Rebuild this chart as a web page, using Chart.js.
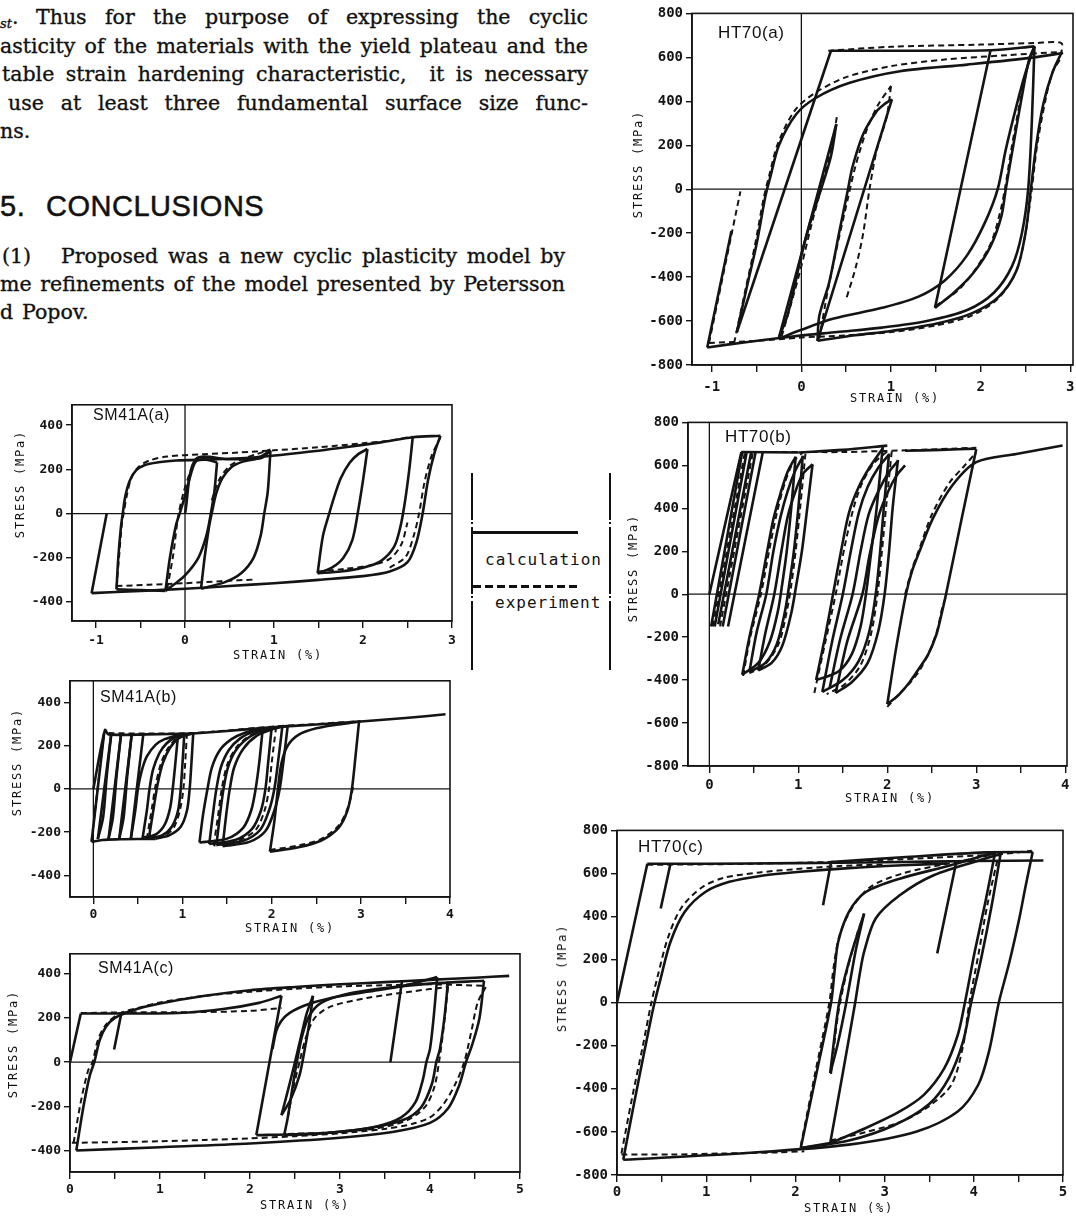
<!DOCTYPE html>
<html lang="en">
<head>
<meta charset="utf-8">
<title>Cyclic stress–strain curves, SM41A and HT70</title>
<script src="https://cdn.jsdelivr.net/npm/chart.js@4.4.1/dist/chart.umd.min.js"></script>
<style>
  html, body { margin: 0; padding: 0; background: #fff; }
  body { position: relative; width: 1076px; height: 1217px; overflow: hidden; color: #111; }
  .ln { position: absolute; font-family: 'DejaVu Serif', serif; font-size: 20.5px; line-height: 28px;
        -webkit-text-stroke: 0.35px #111;
        white-space: nowrap; text-align: justify; text-align-last: justify; }
  .hd { position: absolute; font-family: 'Liberation Sans', Arial, sans-serif; font-size: 29px;
        line-height: 32px; letter-spacing: 0.5px; white-space: nowrap; -webkit-text-stroke: 0.5px #111; }
  canvas { position: absolute; }
  .pl { position: absolute; font-family: 'Liberation Sans', sans-serif; font-size: 16px; line-height: 18px;
        transform: translateY(-50%); letter-spacing: 0.6px; white-space: nowrap; }
  .xt, .yt { position: absolute; font-family: 'DejaVu Sans Mono', monospace; font-size: 12px;
             letter-spacing: 1.8px; white-space: nowrap; line-height: 14px; }
  .xt { transform: translate(-50%, -50%); }
  .yt { transform: translate(-50%, -50%) rotate(-90deg); }
  .lv { position: absolute; width: 1.6px; background: #111; }
  .lgt { position: absolute; font-family: 'DejaVu Sans Mono', monospace; font-size: 16px;
         letter-spacing: 1px; transform: translateY(-50%); white-space: nowrap; }
</style>
</head>
<body>

<!-- running text of the page -->
<div class="ln" style="left:0;top:3px"><span style="font-style:italic;font-size:13px;position:relative;top:4px">st</span>.</div>
<div class="ln" style="left:36px;top:3px;width:552px">Thus for the purpose of expressing the cyclic</div>
<div class="ln" style="left:0;top:32px;width:588px">asticity of the materials with the yield plateau and the</div>
<div class="ln" style="left:2px;top:60px;width:586px">table strain hardening characteristic,&nbsp; it is necessary</div>
<div class="ln" style="left:8px;top:89px;width:580px">use at least three fundamental surface size func-</div>
<div class="ln" style="left:0;top:117px">ns.</div>
<div class="hd" style="left:0;top:190px">5.</div>
<div class="hd" style="left:46px;top:190px">CONCLUSIONS</div>
<div class="ln" style="left:2px;top:242px">(1)</div>
<div class="ln" style="left:61px;top:242px;width:504px">Proposed was a new cyclic plasticity model by</div>
<div class="ln" style="left:0;top:270px;width:565px">me refinements of the model presented by Petersson</div>
<div class="ln" style="left:0;top:298px">d</div>
<div class="ln" style="left:22px;top:298px">Popov.</div>

<!-- legend between the panels -->
<div class="lv" style="left:471px;top:473px;height:47px"></div>
<div class="lv" style="left:471px;top:522px;height:2px"></div>
<div class="lv" style="left:471px;top:527px;height:67px"></div>
<div class="lv" style="left:471px;top:596px;height:2px"></div>
<div class="lv" style="left:471px;top:601px;height:69px"></div>
<div class="lv" style="left:609px;top:473px;height:47px"></div>
<div class="lv" style="left:609px;top:522px;height:2px"></div>
<div class="lv" style="left:609px;top:527px;height:67px"></div>
<div class="lv" style="left:609px;top:596px;height:2px"></div>
<div class="lv" style="left:609px;top:601px;height:69px"></div>
<div style="position:absolute;left:473px;top:531px;width:105px;height:3px;background:#111"></div>
<div class="lgt" style="left:485px;top:559px">calculation</div>
<div style="position:absolute;left:473px;top:585px;width:105px;height:3px;background:repeating-linear-gradient(to right,#111 0 8px,transparent 8px 12px)"></div>
<div class="lgt" style="left:495px;top:602px">experiment</div>

<div id="charts"></div>

<!-- panel captions and axis titles -->
<div class="pl" style="left:93px;top:415px">SM41A(a)</div>
<div class="pl" style="left:100px;top:697px">SM41A(b)</div>
<div class="pl" style="left:98px;top:968px">SM41A(c)</div>
<div class="pl" style="left:718px;top:33px;font-size:17px">HT70(a)</div>
<div class="pl" style="left:725px;top:437px;font-size:17px">HT70(b)</div>
<div class="pl" style="left:638px;top:847px;font-size:17px">HT70(c)</div>

<div class="yt" style="left:20px;top:484px">STRESS (MPa)</div>
<div class="xt" style="left:278px;top:655px">STRAIN (%)</div>
<div class="yt" style="left:17px;top:762px">STRESS (MPa)</div>
<div class="xt" style="left:290px;top:928px">STRAIN (%)</div>
<div class="yt" style="left:13px;top:1044px">STRESS (MPa)</div>
<div class="xt" style="left:305px;top:1205px">STRAIN (%)</div>
<div class="yt" style="left:638px;top:164px">STRESS (MPa)</div>
<div class="xt" style="left:895px;top:398px">STRAIN (%)</div>
<div class="yt" style="left:633px;top:568px">STRESS (MPa)</div>
<div class="xt" style="left:890px;top:798px">STRAIN (%)</div>
<div class="yt" style="left:562px;top:978px">STRESS (MPa)</div>
<div class="xt" style="left:849px;top:1208px">STRAIN (%)</div>

<script>
// ---- tick values (strain in %, stress in MPa) ----
const strainTicksA = [-1, -0.5, 0, 0.5, 1, 1.5, 2, 2.5, 3];
const strainTicks4 = [0, 0.5, 1, 1.5, 2, 2.5, 3, 3.5, 4];
const strainTicks5 = [0, 0.5, 1, 1.5, 2, 2.5, 3, 3.5, 4, 4.5, 5];
const stressTicksSM = [-400, -200, 0, 200, 400];
const stressTicksHT = [-800, -600, -400, -200, 0, 200, 400, 600, 800];

// ---- SM41A(a): each inner array is one branch of [strain, stress] points ----
const sm41aCalc = [
  [[-1.05,-360],[-0.88,0]],
  [[-1.05,-360],[-0.5,-350],[0,-340],[0.5,-328],[1.0,-315],[1.5,-300],[2.0,-283],[2.3,-262],[2.5,-220],[2.6,-130],[2.67,0],[2.73,150],[2.8,270],[2.87,352]],
  [[-0.77,-343],[-0.75,-200],[-0.72,-60],[-0.7,0],[-0.67,80],[-0.62,150],[-0.55,195],[-0.45,220],[-0.3,232],[-0.1,240],[0.3,245],[0.8,255],[1.3,275],[1.8,300],[2.2,322],[2.56,345],[2.87,352]],
  [[2.56,349],[2.52,200],[2.47,50],[2.42,-60],[2.35,-150],[2.2,-215],[2.0,-245],[1.75,-262],[1.49,-270]],
  [[1.49,-270],[1.55,-100],[1.62,0],[1.68,80],[1.75,160],[1.85,230],[1.95,270],[2.05,292]],
  [[2.05,292],[2.0,150],[1.94,0],[1.88,-120],[1.78,-200],[1.65,-245],[1.49,-270]],
  [[0,0],[0.12,245],[0.5,246],[0.85,250],[0.96,285]],
  [[0.96,285],[0.93,100],[0.89,0],[0.85,-100],[0.77,-200],[0.63,-270],[0.45,-310],[0.18,-340]],
  [[0.18,-340],[0.22,-200],[0.27,-60],[0.3,0],[0.35,90],[0.42,160],[0.52,210],[0.65,235],[0.8,248],[0.96,285]],
  [[0.36,232],[0.33,100],[0.29,0],[0.24,-100],[0.15,-200],[0.0,-280],[-0.12,-320],[-0.22,-350]],
  [[-0.22,-350],[-0.17,-200],[-0.1,-50],[-0.06,0],[0.0,80],[0.06,170],[0.12,235],[0.22,245],[0.36,232]],
  [[-0.77,-343],[-0.5,-346],[-0.22,-350]]
];
const sm41aExp = [
  [[-0.77,-335],[-0.74,-190],[-0.71,-50],[-0.69,0],[-0.65,90],[-0.6,165],[-0.52,212],[-0.4,240],[-0.2,258],[0.2,268],[0.6,276],[1.0,286],[1.5,300],[2.0,318],[2.3,330],[2.56,348]],
  [[-0.77,-328],[-0.4,-322],[0.0,-315],[0.4,-306],[0.8,-298]],
  [[1.49,-262],[1.8,-250],[2.1,-233],[2.3,-205],[2.43,-140],[2.5,-40]],
  [[0.3,60],[0.38,150],[0.5,215],[0.65,248],[0.8,268],[0.96,290]],
  [[-0.2,-340],[-0.13,-180],[-0.08,-20],[-0.02,90],[0.06,190],[0.12,240]],
  [[2.3,-245],[2.48,-195],[2.57,-100],[2.63,0],[2.69,140],[2.77,260],[2.87,345]]
];

// ---- SM41A(b) ----
const sm41bCalc = [
  [[0,0],[0.13,272],[0.17,252],[0.6,252],[1.12,256]],
  [[1.12,256],[1.5,268],[2.0,285],[2.5,298],[3.0,312],[3.5,328],[3.95,345]],
  [[-0.02,-245],[0.12,255]],
  [[0.05,-232],[0.2,252]],
  [[0.17,-232],[0.31,252]],
  [[0.29,-232],[0.43,252]],
  [[0.42,-232],[0.56,252]],
  [[0.2,252],[0.15,60],[0.11,-130],[0.05,-232]],
  [[0.31,252],[0.26,60],[0.22,-130],[0.17,-232]],
  [[0.43,252],[0.38,60],[0.34,-130],[0.29,-232]],
  [[-0.02,-245],[0.1,-236],[0.3,-233],[0.5,-232],[0.7,-232]],
  [[0.42,-232],[0.47,-100],[0.5,0],[0.54,80],[0.6,150],[0.7,205],[0.8,230],[0.95,250]],
  [[0.55,-232],[0.6,-100],[0.63,0],[0.67,90],[0.74,165],[0.82,210],[0.92,240],[1.02,255]],
  [[0.62,-235],[0.68,-80],[0.72,20],[0.78,120],[0.86,190],[0.96,235],[1.1,255]],
  [[0.95,252],[0.92,120],[0.89,0],[0.86,-90],[0.8,-165],[0.7,-210],[0.55,-225]],
  [[1.02,255],[1.0,120],[0.98,0],[0.95,-100],[0.88,-175],[0.77,-215],[0.62,-228]],
  [[1.12,256],[1.1,120],[1.08,0],[1.05,-100],[0.98,-175],[0.85,-215],[0.7,-230]],
  [[1.19,-248],[1.23,-120],[1.28,0],[1.33,100],[1.42,180],[1.55,230],[1.7,260],[1.9,280]],
  [[1.3,-255],[1.34,-120],[1.38,0],[1.43,100],[1.52,180],[1.65,235],[1.8,265],[2.0,285]],
  [[1.38,-260],[1.42,-120],[1.46,0],[1.51,100],[1.6,180],[1.75,240],[1.92,272],[2.12,290]],
  [[1.45,-265],[1.49,-120],[1.53,0],[1.58,100],[1.68,185],[1.83,245],[2.0,275],[2.18,292]],
  [[1.9,280],[1.86,120],[1.82,0],[1.77,-100],[1.68,-180],[1.5,-230],[1.19,-248]],
  [[2.0,285],[1.96,120],[1.93,0],[1.88,-100],[1.78,-185],[1.6,-235],[1.3,-255]],
  [[2.12,290],[2.07,120],[2.03,0],[1.97,-100],[1.87,-190],[1.68,-240],[1.38,-260]],
  [[2.18,292],[2.13,120],[2.09,0],[2.03,-100],[1.93,-195],[1.75,-245],[1.45,-265]],
  [[1.98,-290],[2.03,-150],[2.07,0],[2.11,120],[2.18,200],[2.3,250],[2.5,280],[2.75,298],[2.98,312]],
  [[2.98,312],[2.94,150],[2.9,0],[2.85,-100],[2.75,-180],[2.55,-240],[2.3,-270],[1.98,-290]]
];
const sm41bExp = [
  [[0.17,258],[0.6,256],[1.1,258],[1.5,270],[2.0,288],[2.5,300],[3.0,314]],
  [[-0.02,-240],[0.12,262]],
  [[0.6,-232],[0.66,-80],[0.7,20],[0.76,120],[0.84,190],[0.95,240],[1.08,258]],
  [[1.05,258],[1.03,120],[1.01,0],[0.97,-100],[0.9,-180],[0.78,-220],[0.6,-232]],
  [[1.35,-262],[1.4,-120],[1.44,0],[1.5,110],[1.6,190],[1.75,245],[1.95,278]],
  [[2.05,288],[2.0,120],[1.97,0],[1.92,-100],[1.82,-190],[1.62,-240],[1.35,-262]],
  [[1.98,-282],[2.3,-262],[2.55,-232],[2.75,-170],[2.86,-80],[2.92,20]]
];

// ---- SM41A(c) ----
const sm41cCalc = [
  [[0,0],[0.12,220]],
  [[0.12,220],[0.6,220],[1.2,222],[1.7,240],[2.1,268],[2.35,300]],
  [[0.57,220],[0.49,57]],
  [[2.35,300],[2.07,-330]],
  [[0.07,-400],[0.15,-200],[0.22,-60],[0.27,0],[0.33,100],[0.4,160],[0.5,200],[0.7,235],[1.0,265],[1.5,300],[2.0,325],[2.5,340],[3.0,352],[3.5,362],[4.0,372],[4.5,382],[4.88,390]],
  [[4.6,368],[4.55,200],[4.47,80],[4.4,0],[4.32,-110],[4.2,-210],[4.0,-275],[3.6,-315],[3.0,-342],[2.0,-368],[1.0,-385],[0.07,-400]],
  [[2.38,-330],[2.42,-250],[2.47,-120],[2.52,0],[2.58,120],[2.66,210],[2.8,270],[3.1,310],[3.5,335],[4.0,355],[4.6,368]],
  [[4.08,385],[4.04,200],[4.0,60],[3.96,0],[3.92,-80],[3.84,-180],[3.68,-250],[3.4,-292],[3.0,-315],[2.7,-325],[2.38,-330]],
  [[4.2,365],[4.16,200],[4.11,60],[4.07,0],[4.02,-100],[3.9,-205],[3.7,-262],[3.3,-300],[2.9,-318],[2.5,-326],[2.07,-330]],
  [[2.25,60],[2.3,150],[2.4,210],[2.6,255],[2.9,290],[3.3,318],[3.7,345],[4.08,385]],
  [[2.35,-240],[2.42,-130],[2.5,0],[2.57,120],[2.63,220],[2.7,300]],
  [[2.7,300],[2.66,180],[2.6,40],[2.55,-60],[2.45,-170],[2.35,-240]],
  [[3.69,370],[3.56,0]]
];
const sm41cExp = [
  [[0.02,-365],[0.5,-362],[1.0,-358],[1.5,-352],[2.0,-345],[2.5,-335],[3.0,-322],[3.5,-302],[3.8,-280],[4.0,-250],[4.15,-190],[4.28,-100],[4.38,0],[4.46,140],[4.53,270],[4.62,340]],
  [[0.04,-365],[0.12,-180],[0.2,-40],[0.25,0],[0.31,100],[0.4,170],[0.55,220],[0.8,250],[1.0,270],[1.5,300],[2.0,318],[2.5,332],[3.0,342],[3.5,348],[4.0,352],[4.62,345]],
  [[0.12,222],[0.6,225],[1.4,226],[2.0,232],[2.35,245]],
  [[4.2,340],[4.15,150],[4.1,0],[4.05,-110],[3.95,-200],[3.75,-262],[3.4,-300],[2.9,-318],[2.4,-325]],
  [[2.42,-250],[2.48,-120],[2.55,0],[2.62,110],[2.72,200],[2.9,252],[3.3,290],[3.8,320],[4.2,340]]
];

// ---- HT70(a) ----
const ht70aCalc = [
  [[-1.05,-720],[-0.78,-190]],
  [[-0.72,-651],[0.33,630]],
  [[0.33,630],[1.2,630],[2.11,632],[2.6,650]],
  [[2.11,632],[1.49,-540]],
  [[1.49,-540],[1.7,-471],[1.92,-380],[2.11,-260],[2.23,-125],[2.28,0],[2.36,190],[2.45,400],[2.54,590],[2.6,650]],
  [[0.18,-690],[0.6,-665],[1.0,-645],[1.5,-612],[1.9,-565],[2.2,-490],[2.4,-370],[2.5,-200],[2.56,0],[2.62,200],[2.7,390],[2.8,530],[2.9,620]],
  [[-0.72,-651],[-0.6,-430],[-0.5,-250],[-0.4,-30],[-0.35,50],[-0.25,200],[-0.06,340],[0.16,415],[0.54,484],[1.1,537],[1.85,567],[2.6,600],[2.92,620]],
  [[2.6,650],[2.57,300],[2.53,0],[2.46,-200],[2.35,-350],[2.15,-470],[1.85,-550],[1.4,-600],[0.9,-630],[0.4,-650],[-0.1,-670],[-0.6,-695],[-1.05,-720]],
  [[-0.25,-680],[0.0,-640],[0.35,-590],[0.9,-540],[1.3,-490],[1.6,-415],[1.85,-300],[2.05,-150],[2.19,0],[2.28,180],[2.4,380],[2.5,530],[2.6,650]],
  [[-0.25,-675],[0.39,296]],
  [[0.39,296],[0.33,150],[0.22,0],[0.1,-150],[0.0,-300],[-0.08,-450],[-0.16,-580],[-0.25,-675]],
  [[0.18,-690],[1.01,409]],
  [[1.01,409],[0.92,385],[0.84,355],[0.69,251],[0.57,101],[0.52,0],[0.42,-200],[0.31,-425],[0.2,-576],[0.18,-690]]
];
const ht70aExp = [
  [[-1.03,-700],[-0.68,-10]],
  [[-0.75,-700],[-0.62,-450],[-0.52,-260],[-0.42,-40],[-0.36,60],[-0.26,210],[-0.07,360],[0.16,440],[0.5,510],[1.0,560],[1.6,590],[2.3,610],[2.9,625]],
  [[0.3,630],[1.0,648],[2.0,658],[2.6,665],[2.9,665],[2.9,620]],
  [[-1.03,-700],[-0.5,-690],[0,-675],[0.5,-665],[1.0,-650],[1.5,-620],[1.9,-575],[2.2,-495],[2.4,-370],[2.5,-200],[2.57,0],[2.63,200],[2.72,400],[2.8,530],[2.9,600]],
  [[-0.22,-670],[-0.1,-500],[0.0,-350],[0.12,-150],[0.25,50],[0.35,220],[0.4,340]],
  [[0.2,-680],[0.3,-450],[0.42,-220],[0.52,-40],[0.6,100],[0.72,260],[0.85,380],[1.0,470]],
  [[1.0,469],[0.95,326],[0.84,176],[0.76,0],[0.69,-200],[0.61,-350],[0.5,-500]],
  [[1.5,-530],[1.75,-460],[1.95,-360],[2.12,-240],[2.22,-100],[2.27,0],[2.35,200],[2.45,420],[2.55,600],[2.62,660]]
];

// ---- HT70(b) ----
const ht70bCalc = [
  [[0,0],[0.36,662]],
  [[0.36,662],[1.0,660]],
  [[1.0,660],[1.5,672],[2.0,692]],
  [[2.2,668],[2.6,672],[3.0,678]],
  [[0.02,-150],[0.37,662]],
  [[0.06,-150],[0.42,662]],
  [[0.1,-140],[0.47,662]],
  [[0.15,-150],[0.52,662]],
  [[0.21,-150],[0.6,660]],
  [[0.37,-375],[0.45,-200],[0.56,0],[0.65,200],[0.72,350],[0.8,470],[0.88,570],[0.97,640]],
  [[0.45,-362],[0.53,-180],[0.64,0],[0.72,200],[0.8,360],[0.88,480],[0.96,570],[1.05,640]],
  [[0.55,-355],[0.63,-180],[0.73,0],[0.81,200],[0.88,360],[0.96,470],[1.05,560],[1.16,605]],
  [[0.97,640],[0.92,400],[0.87,200],[0.82,50],[0.77,-80],[0.68,-220],[0.55,-320],[0.37,-375]],
  [[1.05,645],[1.0,400],[0.95,200],[0.9,50],[0.85,-80],[0.76,-230],[0.63,-320],[0.45,-362]],
  [[1.16,605],[1.1,400],[1.04,200],[0.98,50],[0.92,-90],[0.82,-240],[0.7,-320],[0.55,-355]],
  [[1.2,-400],[1.3,-200],[1.39,0],[1.48,200],[1.57,380],[1.68,500],[1.8,590],[1.95,680]],
  [[1.27,-455],[1.38,-220],[1.5,0],[1.59,200],[1.68,380],[1.78,500],[1.9,590],[2.02,650]],
  [[1.35,-440],[1.47,-210],[1.61,0],[1.7,200],[1.79,370],[1.9,480],[2.02,570],[2.12,620]],
  [[1.42,-460],[1.55,-220],[1.72,0],[1.8,180],[1.9,360],[2.0,470],[2.1,550],[2.2,600]],
  [[1.95,690],[1.88,400],[1.82,200],[1.76,0],[1.7,-150],[1.6,-280],[1.45,-360],[1.2,-400]],
  [[2.02,655],[1.96,400],[1.92,200],[1.87,0],[1.8,-170],[1.68,-310],[1.5,-400],[1.27,-455]],
  [[2.12,625],[2.06,400],[2.02,200],[1.97,0],[1.9,-170],[1.78,-320],[1.6,-410],[1.42,-460]],
  [[3.0,675],[2.83,340],[2.66,0],[2.6,-110],[2.55,-190],[2.46,-280],[2.36,-344],[2.25,-410],[2.13,-468],[2.0,-512]],
  [[2.0,-512],[2.1,-250],[2.21,0],[2.28,110],[2.36,197],[2.51,351],[2.73,506],[3.0,615],[3.45,653],[3.97,692]]
];
const ht70bExp = [
  [[0.36,662],[1.0,662],[1.5,662],[2.2,670],[3.0,682]],
  [[2.0,-525],[2.12,-470],[2.25,-415],[2.37,-350],[2.47,-270],[2.56,-170],[2.62,-60],[2.67,0]],
  [[2.2,0],[2.28,120],[2.36,210],[2.5,370],[2.7,520],[2.85,590],[3.0,660]],
  [[1.18,-460],[1.3,-230],[1.42,0],[1.52,220],[1.62,400],[1.72,520],[1.85,610],[2.0,665]],
  [[2.05,665],[1.99,420],[1.94,200],[1.89,0],[1.82,-180],[1.7,-330],[1.52,-420],[1.32,-465]],
  [[0.38,-380],[0.46,-200],[0.58,0],[0.68,220],[0.76,380],[0.85,520],[0.95,620],[1.05,660]],
  [[1.08,655],[1.02,400],[0.97,200],[0.92,40],[0.87,-80],[0.78,-230],[0.62,-330],[0.45,-368]],
  [[0.04,-150],[0.4,662]],
  [[0.12,-150],[0.49,662]]
];

// ---- HT70(c) ----
const ht70cCalc = [
  [[0,0],[0.34,645]],
  [[0.34,645],[1.0,645],[2.0,648],[3.0,652],[4.0,658],[4.78,660]],
  [[2.4,653],[3.2,675],[4.13,698],[4.66,700]],
  [[0.6,646],[0.49,437]],
  [[2.4,653],[2.31,452]],
  [[3.8,646],[3.59,229]],
  [[0.07,-729],[0.19,-470],[0.31,-220],[0.41,-19],[0.49,113],[0.6,283],[0.76,422],[0.99,514],[1.26,561],[1.64,591],[2.02,607],[2.6,625],[3.2,638],[3.7,646]],
  [[4.66,700],[4.58,540],[4.51,391],[4.4,190],[4.28,0],[4.17,-227],[4.05,-381],[3.82,-505],[3.36,-598],[2.6,-659],[1.45,-698],[0.07,-729]],
  [[2.06,-675],[2.23,-340],[2.4,0],[2.44,150],[2.48,283],[2.6,422],[2.79,514],[3.17,576],[3.74,638],[4.24,700]],
  [[2.39,-652],[2.53,-330],[2.67,0],[2.72,130],[2.77,236],[2.9,391],[3.17,499],[3.55,592],[4.13,669],[4.3,690]],
  [[4.24,700],[4.13,468],[4.01,236],[3.9,0],[3.82,-150],[3.67,-304],[3.44,-428],[3.17,-505],[2.79,-582],[2.39,-652]],
  [[4.3,690],[4.2,450],[4.08,200],[3.97,0],[3.88,-180],[3.72,-350],[3.5,-470],[3.1,-570],[2.6,-640],[2.06,-675]],
  [[2.39,-327],[2.49,0],[2.6,190],[2.77,414]],
  [[2.77,414],[2.68,250],[2.57,0],[2.47,-200],[2.39,-327]],
  [[2.06,-675],[2.39,-652]]
];
const ht70cExp = [
  [[0.05,-700],[0.17,-440],[0.29,-200],[0.38,-10],[0.46,130],[0.57,300],[0.72,440],[0.95,535],[1.2,580],[1.6,605],[2.0,620],[2.5,635],[3.0,642]],
  [[0.05,-705],[0.6,-705],[1.2,-700],[1.8,-695],[2.1,-690]],
  [[2.39,-640],[2.8,-600],[3.2,-550],[3.5,-480],[3.75,-380],[3.88,-200],[3.95,0],[4.05,220],[4.15,450],[4.28,690]],
  [[2.06,-665],[2.22,-330],[2.38,0],[2.43,170],[2.5,320],[2.65,450],[2.85,540],[3.2,600],[3.7,645],[4.24,690]],
  [[0.34,640],[1.5,645],[2.5,655],[3.5,672],[4.3,690],[4.65,705]],
  [[2.4,-330],[2.48,-50],[2.58,150],[2.7,330],[2.76,400]]
];

// ---- panel layout: plot frame [left, top, right, bottom] in page pixels ----
const panels = [
  { frame: [71.7, 404, 451.7, 620.7], xr: [-1.27, 3.0],  yr: [-486, 492], xt: strainTicksA, yt: stressTicksSM,
    calc: sm41aCalc, exp: sm41aExp, originLine: true,  xPad: 4.5, fs: 13 },
  { frame: [70, 680, 450, 896.7],     xr: [-0.262, 4.0], yr: [-500, 500], xt: strainTicks4, yt: stressTicksSM,
    calc: sm41bCalc, exp: sm41bExp, originLine: true,  xPad: 2.5, fs: 13 },
  { frame: [70, 953, 520, 1172],      xr: [0, 5],        yr: [-497, 490], xt: strainTicks5, yt: stressTicksSM,
    calc: sm41cCalc, exp: sm41cExp, originLine: false, xPad: 2.5, fs: 13 },
  { frame: [692, 11.7, 1073, 365],    xr: [-1.22, 3.03], yr: [-800, 800], xt: strainTicksA, yt: stressTicksHT,
    calc: ht70aCalc, exp: ht70aExp, originLine: true,  xPad: 7, fs: 14 },
  { frame: [688, 421, 1067, 766],     xr: [-0.24, 4.02], yr: [-800, 800], xt: strainTicks4, yt: stressTicksHT,
    calc: ht70bCalc, exp: ht70bExp, originLine: true,  xPad: 3.5, fs: 14 },
  { frame: [617, 829, 1063, 1175],    xr: [0, 5],        yr: [-800, 800], xt: strainTicks5, yt: stressTicksHT,
    calc: ht70cCalc, exp: ht70cExp, originLine: false, xPad: 1.5, fs: 14 }
];

const INK = '#141414';
const AXIS_W = 58, AXIS_H = 34, PAD_T = 10, PAD_R = 10;

// frame box plus the zero-stress line (and the zero-strain line where it lies inside)
const frameAndZero = {
  id: 'frameAndZero',
  beforeDatasetsDraw(chart, args, opts) {
    const { ctx, chartArea: a, scales: { x, y } } = chart;
    ctx.save();
    ctx.strokeStyle = INK;
    ctx.lineWidth = 1.3;
    ctx.beginPath();
    const y0 = y.getPixelForValue(0);
    ctx.moveTo(a.left, y0); ctx.lineTo(a.right, y0);
    if (opts.originLine) {
      const x0 = x.getPixelForValue(0);
      ctx.moveTo(x0, a.top); ctx.lineTo(x0, a.bottom);
    }
    ctx.stroke();
    ctx.lineWidth = 1.6;
    ctx.strokeRect(a.left, a.top, a.right - a.left, a.bottom - a.top);
    ctx.restore();
  }
};

function branchSets(branches, dashed) {
  return branches.map(b => ({
    data: b.map(([x, y]) => ({ x, y })),
    showLine: true,
    borderColor: INK,
    borderWidth: dashed ? 2.0 : 2.6,
    borderDash: dashed ? [6, 4] : [],
    pointRadius: 0,
    tension: 0.3,
    fill: false
  }));
}

const host = document.getElementById('charts');
panels.forEach(p => {
  const [L, T, R, B] = p.frame;
  const cv = document.createElement('canvas');
  const w = Math.round(R - L + AXIS_W + PAD_R);
  const h = Math.round(B - T + PAD_T + AXIS_H);
  cv.width = w; cv.height = h;
  cv.style.left = (L - AXIS_W) + 'px';
  cv.style.top = (T - PAD_T) + 'px';
  cv.style.width = w + 'px'; cv.style.height = h + 'px';
  host.appendChild(cv);

  const tickFont = { family: 'DejaVu Sans Mono', size: p.fs, weight: 'bold' };
  new Chart(cv, {
    type: 'scatter',
    data: { datasets: [...branchSets(p.calc, false), ...branchSets(p.exp, true)] },
    options: {
      responsive: false, animation: false, devicePixelRatio: 1, events: [],
      layout: { padding: { top: PAD_T, right: PAD_R, left: 0, bottom: 0 } },
      plugins: { legend: { display: false }, tooltip: { enabled: false },
                 frameAndZero: { originLine: p.originLine } },
      scales: {
        x: {
          type: 'linear', min: p.xr[0], max: p.xr[1], bounds: 'data',
          afterBuildTicks: s => { s.ticks = p.xt.map(v => ({ value: v })); },
          afterFit: s => { s.height = AXIS_H; },
          ticks: { callback: v => Math.abs(v - Math.round(v)) < 1e-6 ? String(Math.round(v)) : '',
                   font: tickFont, color: INK, padding: p.xPad, autoSkip: false, maxRotation: 0 },
          grid: { drawOnChartArea: false, tickLength: 7, color: INK, lineWidth: 1.4 },
          border: { display: true, color: INK, width: 1.6 }
        },
        y: {
          type: 'linear', min: p.yr[0], max: p.yr[1], bounds: 'data',
          afterBuildTicks: s => { s.ticks = p.yt.map(v => ({ value: v })); },
          afterFit: s => { s.width = AXIS_W; },
          ticks: { callback: v => String(v), font: tickFont, color: INK, padding: 3, autoSkip: false },
          grid: { drawOnChartArea: false, tickLength: 6, color: INK, lineWidth: 1.4 },
          border: { display: true, color: INK, width: 1.6 }
        }
      }
    },
    plugins: [frameAndZero]
  });
});
</script>
</body>
</html>
